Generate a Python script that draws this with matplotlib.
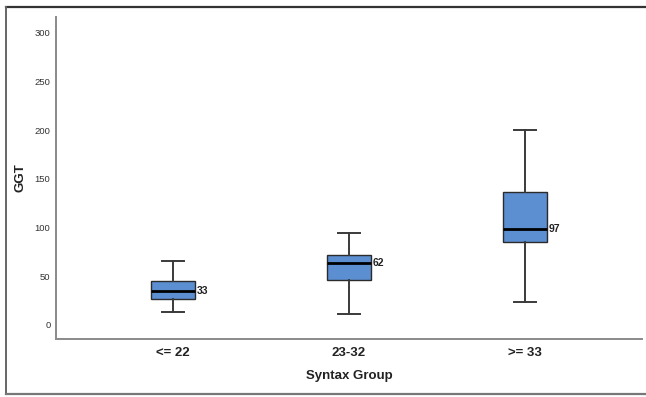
import matplotlib
matplotlib.use('Agg')
import matplotlib.pyplot as plt
from matplotlib.lines import Line2D

# Daten
groups = ['<= 22', '23-32', '>= 33']
whislo = [13, 11.5, 23.5]
q1 = [26.5, 46, 85.5]
med = [35, 64, 98.5]
q3 = [45, 72, 136.5]
whishi = [65.5, 94.5, 200]
med_labels = ['33', '62', '97']
yticks = [0, 50, 100, 150, 200, 250, 300]

plt.rcParams['font.family'] = ['Liberation Sans', 'DejaVu Sans']

fig = plt.figure(figsize=(6.46, 3.97), dpi=100)
ax = fig.add_axes([56/646, 1-339/397, (642-56)/646, (339-17)/397])

stats = []
for i in range(len(groups)):
    stats.append(dict(label=groups[i], whislo=whislo[i], q1=q1[i], med=med[i],
                      q3=q3[i], whishi=whishi[i], fliers=[]))

ax.bxp(stats, positions=range(len(groups)), widths=0.25, patch_artist=True,
       showfliers=False,
       boxprops=dict(facecolor='#5b8fd1', edgecolor='#2b2b2b', linewidth=1.0),
       medianprops=dict(color='black', linewidth=2.0),
       whiskerprops=dict(color='#3a3a3a', linewidth=1.4),
       capprops=dict(color='#3a3a3a', linewidth=1.4),
       capwidths=0.125)

# Median-Beschriftung
for i, m in enumerate(med):
    ax.text(i + 0.135, m, med_labels[i], va='center', ha='left',
            fontsize=7.5, fontweight='bold', color='#222222')

ax.set_xlim(-0.665, 2.665)
ax.set_ylim(-14.4, 316)
ax.set_yticks(yticks)
ax.set_xticks(range(len(groups)))
ax.set_xticklabels(groups, fontsize=9.5, fontweight='bold', color='#222222')
ax.tick_params(axis='y', length=0, labelsize=6.8, pad=4, labelcolor='#333333')
ax.tick_params(axis='x', length=0, pad=6)

for s in ['top', 'right']:
    ax.spines[s].set_visible(False)
for s in ['left', 'bottom']:
    ax.spines[s].set_color('#8a8a8a')
    ax.spines[s].set_linewidth(1.4)

ax.set_xlabel('Syntax Group', fontsize=9.5, fontweight='bold', color='#222222', labelpad=8)
ax.set_ylabel('GGT', fontsize=9.5, fontweight='bold', color='#222222')
ax.yaxis.set_label_coords(-0.05, 0.5)

# Rahmen
fig.add_artist(Line2D([6/646, 1], [1-6.5/397, 1-6.5/397], color='#333333', linewidth=1.6))
fig.add_artist(Line2D([6/646, 6/646], [1-6.5/397, 1-394/397], color='#666666', linewidth=1.4))
fig.add_artist(Line2D([6/646, 1], [1-394/397, 1-394/397], color='#777777', linewidth=1.6))

plt.savefig('out.png', dpi=100)
